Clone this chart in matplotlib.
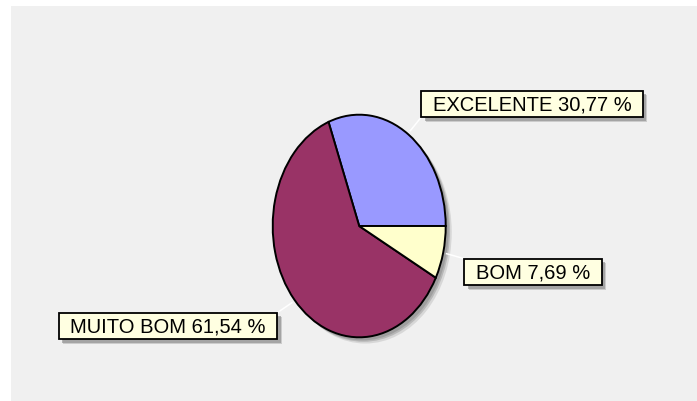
import numpy as np
import matplotlib
matplotlib.use('Agg')
import matplotlib.pyplot as plt
from matplotlib.patches import Ellipse, Rectangle
from matplotlib.lines import Line2D

categories = ['EXCELENTE', 'MUITO BOM', 'BOM']
values = [30.77, 61.54, 7.69]
labels = ['EXCELENTE 30,77 %', 'MUITO BOM 61,54 %', 'BOM 7,69 %']
colors = ['#9999ff', '#993366', '#ffffcc']
# label box centres in figure pixels (from top-left)
label_pos = [(532, 105), (168, 327), (533, 273)]
# which box corner the leader line meets: (sx, sy) with -1 left/bottom, +1 right/top
corners = [(-1, -1), (1, 1), (-1, 1)]

W, H = 697, 402
plt.rcParams['font.family'] = ['Liberation Sans', 'DejaVu Sans']
fig = plt.figure(figsize=(W / 100, H / 100), dpi=100)
fig.patch.set_facecolor('white')
fig.add_artist(Rectangle((11 / W, 0), 1 - 11 / W, 1 - 7 / H, transform=fig.transFigure,
                         facecolor='#f0f0f0', edgecolor='none', zorder=0))

m = 1.1
cx, cy, rx, ry = 359.2, 227.0, 86.5, 111.3
ax = fig.add_axes([(cx - rx * m) / W, 1 - (cy + ry * m) / H, 2 * rx * m / W, 2 * ry * m / H])
ax.set_axis_off()
ax.patch.set_alpha(0)
# soft shadow
for off, a in [(0.07, 0.25), (0.05, 0.45), (0.035, 0.6)]:
    ax.add_patch(Ellipse((off, -off * 0.8), 2, 2, facecolor='#909090', edgecolor='none',
                         alpha=a, zorder=0))
wedges, _ = ax.pie(values, colors=colors, startangle=0, counterclock=True,
                   wedgeprops=dict(edgecolor='black', linewidth=1.4), radius=1)
ax.set_aspect('auto')
ax.set_xlim(-m, m)
ax.set_ylim(-m, m)

renderer = fig.canvas.get_renderer()
padx, pady = 11.5, 3.8
for w, lab, (px, py), (sx, sy) in zip(wedges, labels, label_pos, corners):
    t = fig.text(px / W, 1 - py / H, lab, ha='center', va='center', fontsize=14.5,
                 color='black', zorder=5)
    bb = t.get_window_extent(renderer)
    x0, y0 = bb.x0 - padx, bb.y0 - pady
    bw, bh = bb.width + 2 * padx, bb.height + 2 * pady
    for off, a in [(4.5, 0.35), (3.5, 0.6)]:
        fig.add_artist(Rectangle(((x0 + off) / W, (y0 - off) / H), bw / W, bh / H,
                                 transform=fig.transFigure, facecolor='#8a8a8a',
                                 edgecolor='none', alpha=a, zorder=3))
    fig.add_artist(Rectangle((x0 / W, y0 / H), bw / W, bh / H, transform=fig.transFigure,
                             facecolor='#ffffe1', edgecolor='black', linewidth=1.3, zorder=4))
    # leader line from wedge edge to box corner
    ang = np.deg2rad((w.theta1 + w.theta2) / 2)
    ex, ey = ax.transData.transform((1.04 * np.cos(ang), 1.04 * np.sin(ang)))
    kx = x0 if sx < 0 else x0 + bw
    ky = y0 if sy < 0 else y0 + bh
    fig.add_artist(Line2D([ex / W, kx / W], [ey / H, ky / H], transform=fig.transFigure,
                          color='white', lw=1.1, zorder=2))

fig.savefig('out.png', dpi=100, facecolor=fig.get_facecolor())
